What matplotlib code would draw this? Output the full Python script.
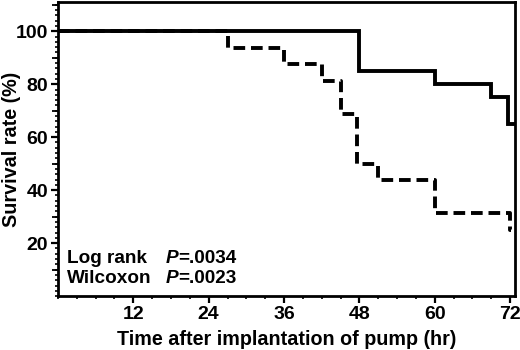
import matplotlib
matplotlib.use('Agg')
from matplotlib import pyplot as plt
from matplotlib.ticker import MultipleLocator

plt.rcParams['font.family'] = ['Liberation Sans', 'DejaVu Sans']
plt.rcParams['font.weight'] = 'bold'

# Kaplan-Meier step data (time in hr, survival in %)
solid_time = [0, 48, 60, 69, 71.6, 72.8]
solid_surv = [100, 85, 80, 75, 65, 65]
dash_time = [0, 27, 36, 42, 45, 47.6, 51, 60, 72, 72.2]
dash_surv = [100, 93.75, 87.5, 81.25, 68.75, 50, 43.75, 31.25, 25, 25]

x_ticks = [12, 24, 36, 48, 60, 72]
y_ticks = [20, 40, 60, 80, 100]
stats_names = ['Log rank', 'Wilcoxon']
stats_p = ['=.0034', '=.0023']

fig = plt.figure(figsize=(5.2, 3.5), dpi=100)
ax = fig.add_axes([0.1115, 0.154, 0.879, 0.84])

ax.step(solid_time, solid_surv, where='post', color='black', lw=2.8,
        solid_joinstyle='miter')
ax.step(dash_time, dash_surv, where='post', color='black', lw=2.8,
        dashes=(3.0, 1.5))

ax.set_xlim(0, 72.8)
ax.set_ylim(0, 111)

ax.set_xticks(x_ticks)
ax.set_yticks(y_ticks)
ax.xaxis.set_minor_locator(MultipleLocator(3))
ax.yaxis.set_minor_locator(MultipleLocator(2))
ax.tick_params(which='major', direction='out', length=5, width=1.6,
               labelsize=14, pad=2)
ax.tick_params(which='minor', direction='out', length=2.5, width=1.2)

# medium ticks at the odd tens on y
sec = ax.secondary_yaxis('left')
sec.set_yticks([10, 30, 50, 70, 90, 110])
sec.tick_params(direction='out', length=4, width=1.3, labelleft=False)
sec.spines['left'].set_visible(False)

for s in ax.spines.values():
    s.set_linewidth(2)

ax.set_xlabel('Time after implantation of pump (hr)', fontsize=14.2,
              fontweight='bold')
ax.set_ylabel('Survival rate (%)', fontsize=14.2, fontweight='bold')
ax.xaxis.set_label_coords(0.5, -0.115)
ax.yaxis.set_label_coords(-0.08, 0.5)

for i, (name, p) in enumerate(zip(stats_names, stats_p)):
    yb = 12.5 - i * 7.6
    ax.text(1.4, yb, name, fontsize=13.7, fontweight='bold', va='baseline')
    pt = ax.text(17.2, yb, 'P', fontsize=13.7, fontweight='bold',
                 fontstyle='italic', va='baseline')
    ax.annotate(p, xy=(1, 0), xycoords=pt, fontsize=13.7, fontweight='bold',
                va='bottom', ha='left')

fig.savefig('out.png', dpi=100)
